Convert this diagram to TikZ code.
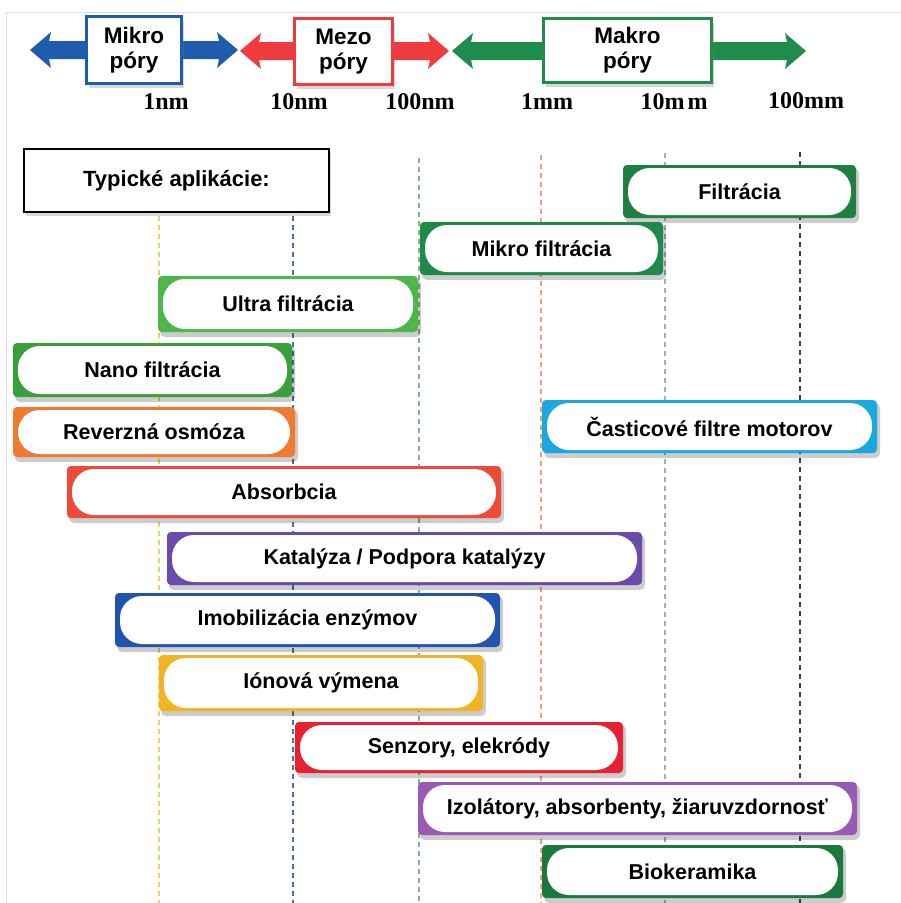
\documentclass[tikz,border=0pt]{standalone}
\usepackage{fontspec}
\setmainfont{Liberation Sans}
\newfontfamily\serifb{Liberation Serif}
\usetikzlibrary{shadows}
\definecolor{cblue}{HTML}{1F5CAE}
\definecolor{cred}{HTML}{EE3B3E}
\definecolor{cgreen}{HTML}{1E8C4A}
\definecolor{gFil}{HTML}{1D7F40}
\definecolor{gMik}{HTML}{1D8A4A}
\definecolor{gUlt}{HTML}{4CB84C}
\definecolor{gNan}{HTML}{3AA03C}
\definecolor{oRev}{HTML}{F07A30}
\definecolor{rAbs}{HTML}{EE4A38}
\definecolor{pKat}{HTML}{6A4AAA}
\definecolor{cCas}{HTML}{1AA8E0}
\definecolor{bImo}{HTML}{1F55B0}
\definecolor{yIon}{HTML}{F2B422}
\definecolor{rSen}{HTML}{E82030}
\definecolor{pIzo}{HTML}{9B59B6}
\definecolor{gBio}{HTML}{1A7A3E}
\definecolor{lYel}{HTML}{F0D060}
\definecolor{lBlu}{HTML}{5070A0}
\definecolor{lGre}{HTML}{80B880}
\definecolor{lOra}{HTML}{F0A080}
\definecolor{lGra}{HTML}{A0B0C0}
\definecolor{lDar}{HTML}{404040}
\tikzset{
  apptext/.style={font=\fontsize{21.5}{24}\selectfont\bfseries, inner sep=0pt},
  poretext/.style={font=\fontsize{22.5}{25}\selectfont\bfseries, align=center, fill=white,
    line width=3pt, drop shadow={opacity=0.3, shadow xshift=2pt, shadow yshift=-4pt}},
  scaletext/.style={font=\serifb\bfseries\fontsize{24}{26}\selectfont, inner sep=0pt},
  vline/.style={line width=1.2pt, dash pattern=on 5pt off 4pt},
}
\newcommand\appbar[7]{%
  \fill[black, opacity=0.2, rounded corners=5pt] (#2+2,#3+3) rectangle (#4+3,#5+5);
  \fill[#6, rounded corners=4pt] (#2,#3) rectangle (#4,#5);
  \fill[white, rounded corners=22pt] (#2+5,#3+3) rectangle (#4-5,#5-3);
  \node[apptext] (#1) at ({(#2+#4)/2},{(#3+#5)/2}) {#7};
}
\newcommand\dblarrow[4]{%
  \fill[#4] (#1,#3) -- (#1+21,#3-18) -- (#1+19,#3-9) -- (#2-19,#3-9) -- (#2-21,#3-18)
    -- (#2,#3) -- (#2-21,#3+18) -- (#2-19,#3+9) -- (#1+19,#3+9) -- (#1+21,#3+18) -- cycle;
}
\begin{document}
\begin{tikzpicture}[x=1pt, y=-1pt]
\useasboundingbox (0,0) rectangle (901,903);
\fill[white] (0,0) rectangle (901,903);
% faint frame
\draw[gray!25, line width=0.8pt] (5,12) -- (901,12);
\draw[gray!25, line width=0.8pt] (6,12) -- (6,903);
% dashed scale lines
\draw[vline, lYel] (159,216) -- (159,903);
\draw[vline, lBlu] (293,216) -- (293,903);
\draw[vline, lGre] (419,158) -- (419,903);
\draw[vline, lOra] (541,155) -- (541,903);
\draw[vline, lGra] (665,153) -- (665,903);
\draw[vline, lDar] (800,152) -- (800,903);
% top arrows
\dblarrow{30}{238}{50}{cblue}
\dblarrow{240}{449}{51}{cred}
\dblarrow{452}{806}{51}{cgreen}
\node[poretext, draw=cblue, minimum width=95pt, minimum height=67pt] (mikro) at (134,50) {Mikro\\póry};
\node[poretext, draw=cred, minimum width=98pt, minimum height=66pt] (mezo) at (343.5,51.5) {Mezo\\póry};
\node[poretext, draw=cgreen, minimum width=168pt, minimum height=64pt] (makro) at (627.5,50.5) {Makro\\póry};
% scale labels
\node[scaletext] (s1) at (166,102) {1nm};
\node[scaletext] (s2) at (299,102) {10nm};
\node[scaletext] (s3) at (420,102) {100nm};
\node[scaletext] (s4) at (547,102) {1mm};
\node[scaletext] (s5) at (674,102) {10m\hspace{3pt}m};
\node[scaletext] (s6) at (806,101) {100mm};
% header box
\node[draw=black, line width=2pt, fill=white, minimum width=305pt, minimum height=63pt,
  font=\fontsize{22}{24}\selectfont\bfseries,
  drop shadow={opacity=0.3, shadow xshift=2pt, shadow yshift=-4pt}] (typ) at (176.5,180.5) {Typické aplikácie:};
% application bars
\appbar{fil}{623}{165}{856}{218}{gFil}{Filtrácia}
\appbar{mik}{420}{222}{663}{275}{gMik}{Mikro filtrácia}
\appbar{ult}{158}{276}{418}{332}{gUlt}{Ultra filtrácia}
\appbar{nan}{13}{343}{292}{397}{gNan}{Nano filtrácia}
\appbar{rev}{13}{407}{295}{457}{oRev}{Reverzná osmóza}
\appbar{cas}{542}{400}{877}{453}{cCas}{Časticové filtre motorov}
\appbar{abs}{67}{466}{501}{518}{rAbs}{Absorbcia}
\appbar{kat}{167}{532}{642}{585}{pKat}{Katalýza / Podpora katalýzy}
\appbar{imo}{115}{593}{500}{647}{bImo}{Imobilizácia enzýmov}
\appbar{ion}{159}{655}{483}{711}{yIon}{Iónová výmena}
\appbar{sen}{295}{722}{623}{773}{rSen}{Senzory, elekródy}
\appbar{izo}{418}{782}{857}{835}{pIzo}{Izolátory, absorbenty, žiaruvzdornosť}
\appbar{bio}{542}{845}{843}{898}{gBio}{Biokeramika}
\end{tikzpicture}
\end{document}
